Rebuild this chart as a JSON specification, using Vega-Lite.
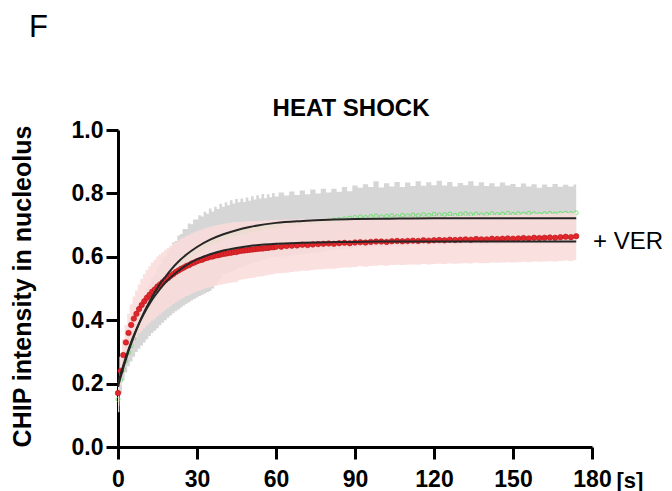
{
  "$schema": "https://vega.github.io/schema/vega-lite/v6.json",
  "width": 474,
  "height": 317,
  "autosize": {"type": "none"},
  "padding": {"left": 118, "top": 130, "right": 80, "bottom": 44},
  "config": {
    "font": "Liberation Sans",
    "view": {"stroke": null},
    "axis": {"grid": false, "domainColor": "black", "domainWidth": 3, "tickColor": "black", "tickWidth": 3, "tickSize": 12, "labelFont": "Liberation Sans", "labelFontSize": 23, "labelFontWeight": "bold", "labelColor": "black", "titleFont": "Liberation Sans", "titleFontWeight": "bold", "titleColor": "black"}
  },
  "datasets": {
    "obs": [
      {"t":0,"g":0.15,"gLo":0.11,"gHi":0.19,"r":0.17,"rLo":0.13,"rHi":0.21},
      {"t":1,"g":0.21,"gLo":0.17,"gHi":0.25,"r":0.24,"rLo":0.195,"rHi":0.285},
      {"t":2,"g":0.245,"gLo":0.21,"gHi":0.29,"r":0.29,"rLo":0.24,"rHi":0.34},
      {"t":3,"g":0.272,"gLo":0.235,"gHi":0.32,"r":0.33,"rLo":0.275,"rHi":0.385},
      {"t":4,"g":0.298,"gLo":0.255,"gHi":0.35,"r":0.36,"rLo":0.30,"rHi":0.42},
      {"t":5,"g":0.32,"gLo":0.27,"gHi":0.38,"r":0.385,"rLo":0.32,"rHi":0.45},
      {"t":6,"g":0.342,"gLo":0.285,"gHi":0.40,"r":0.405,"rLo":0.335,"rHi":0.475},
      {"t":7,"g":0.362,"gLo":0.30,"gHi":0.425,"r":0.42,"rLo":0.346,"rHi":0.494},
      {"t":8,"g":0.382,"gLo":0.31,"gHi":0.44,"r":0.435,"rLo":0.357,"rHi":0.513},
      {"t":9,"g":0.40,"gLo":0.32,"gHi":0.465,"r":0.448,"rLo":0.366,"rHi":0.53},
      {"t":10,"g":0.417,"gLo":0.33,"gHi":0.48,"r":0.46,"rLo":0.375,"rHi":0.545},
      {"t":11,"g":0.433,"gLo":0.34,"gHi":0.50,"r":0.471,"rLo":0.383,"rHi":0.559},
      {"t":12,"g":0.448,"gLo":0.35,"gHi":0.515,"r":0.48,"rLo":0.39,"rHi":0.57},
      {"t":13,"g":0.462,"gLo":0.36,"gHi":0.535,"r":0.49,"rLo":0.398,"rHi":0.582},
      {"t":14,"g":0.476,"gLo":0.367,"gHi":0.545,"r":0.497,"rLo":0.403,"rHi":0.591},
      {"t":15,"g":0.49,"gLo":0.375,"gHi":0.565,"r":0.506,"rLo":0.411,"rHi":0.601},
      {"t":16,"g":0.502,"gLo":0.384,"gHi":0.575,"r":0.513,"rLo":0.418,"rHi":0.608},
      {"t":17,"g":0.513,"gLo":0.392,"gHi":0.595,"r":0.52,"rLo":0.425,"rHi":0.615},
      {"t":18,"g":0.524,"gLo":0.40,"gHi":0.60,"r":0.527,"rLo":0.432,"rHi":0.622},
      {"t":19,"g":0.535,"gLo":0.408,"gHi":0.62,"r":0.533,"rLo":0.438,"rHi":0.628},
      {"t":20,"g":0.545,"gLo":0.415,"gHi":0.628,"r":0.54,"rLo":0.445,"rHi":0.635},
      {"t":21,"g":0.554,"gLo":0.422,"gHi":0.645,"r":0.546,"rLo":0.451,"rHi":0.641},
      {"t":22,"g":0.563,"gLo":0.428,"gHi":0.65,"r":0.552,"rLo":0.457,"rHi":0.647},
      {"t":23,"g":0.571,"gLo":0.434,"gHi":0.667,"r":0.557,"rLo":0.462,"rHi":0.652},
      {"t":24,"g":0.579,"gLo":0.44,"gHi":0.672,"r":0.562,"rLo":0.467,"rHi":0.657},
      {"t":25,"g":0.587,"gLo":0.446,"gHi":0.688,"r":0.566,"rLo":0.471,"rHi":0.661},
      {"t":26,"g":0.594,"gLo":0.452,"gHi":0.688,"r":0.571,"rLo":0.476,"rHi":0.666},
      {"t":27,"g":0.60,"gLo":0.457,"gHi":0.705,"r":0.574,"rLo":0.479,"rHi":0.669},
      {"t":28,"g":0.607,"gLo":0.462,"gHi":0.703,"r":0.579,"rLo":0.484,"rHi":0.674},
      {"t":29,"g":0.613,"gLo":0.467,"gHi":0.718,"r":0.582,"rLo":0.487,"rHi":0.677},
      {"t":30,"g":0.619,"gLo":0.472,"gHi":0.718,"r":0.586,"rLo":0.491,"rHi":0.681},
      {"t":31,"g":0.624,"gLo":0.476,"gHi":0.731,"r":0.589,"rLo":0.494,"rHi":0.684},
      {"t":32,"g":0.629,"gLo":0.48,"gHi":0.727,"r":0.591,"rLo":0.496,"rHi":0.686},
      {"t":33,"g":0.634,"gLo":0.484,"gHi":0.742,"r":0.595,"rLo":0.50,"rHi":0.69},
      {"t":34,"g":0.638,"gLo":0.488,"gHi":0.736,"r":0.597,"rLo":0.502,"rHi":0.692},
      {"t":35,"g":0.643,"gLo":0.492,"gHi":0.752,"r":0.60,"rLo":0.505,"rHi":0.695},
      {"t":36,"g":0.647,"gLo":0.50,"gHi":0.743,"r":0.601,"rLo":0.506,"rHi":0.696},
      {"t":37,"g":0.65,"gLo":0.51,"gHi":0.758,"r":0.604,"rLo":0.509,"rHi":0.699},
      {"t":38,"g":0.654,"gLo":0.52,"gHi":0.751,"r":0.605,"rLo":0.51,"rHi":0.70},
      {"t":39,"g":0.657,"gLo":0.53,"gHi":0.767,"r":0.607,"rLo":0.512,"rHi":0.702},
      {"t":40,"g":0.661,"gLo":0.546,"gHi":0.758,"r":0.609,"rLo":0.514,"rHi":0.704},
      {"t":41,"g":0.664,"gLo":0.549,"gHi":0.772,"r":0.61,"rLo":0.515,"rHi":0.705},
      {"t":42,"g":0.666,"gLo":0.551,"gHi":0.763,"r":0.612,"rLo":0.517,"rHi":0.707},
      {"t":43,"g":0.669,"gLo":0.554,"gHi":0.778,"r":0.613,"rLo":0.518,"rHi":0.708},
      {"t":44,"g":0.672,"gLo":0.557,"gHi":0.768,"r":0.615,"rLo":0.52,"rHi":0.71},
      {"t":45,"g":0.674,"gLo":0.559,"gHi":0.782,"r":0.615,"rLo":0.52,"rHi":0.71},
      {"t":46,"g":0.676,"gLo":0.566,"gHi":0.772,"r":0.618,"rLo":0.526,"rHi":0.71},
      {"t":47,"g":0.678,"gLo":0.568,"gHi":0.784,"r":0.619,"rLo":0.528,"rHi":0.71},
      {"t":48,"g":0.68,"gLo":0.571,"gHi":0.773,"r":0.62,"rLo":0.529,"rHi":0.711},
      {"t":49,"g":0.682,"gLo":0.574,"gHi":0.787,"r":0.621,"rLo":0.531,"rHi":0.711},
      {"t":50,"g":0.684,"gLo":0.576,"gHi":0.777,"r":0.622,"rLo":0.532,"rHi":0.712},
      {"t":51,"g":0.686,"gLo":0.579,"gHi":0.791,"r":0.623,"rLo":0.533,"rHi":0.713},
      {"t":52,"g":0.688,"gLo":0.582,"gHi":0.781,"r":0.624,"rLo":0.535,"rHi":0.713},
      {"t":53,"g":0.689,"gLo":0.584,"gHi":0.794,"r":0.625,"rLo":0.537,"rHi":0.713},
      {"t":54,"g":0.691,"gLo":0.587,"gHi":0.784,"r":0.626,"rLo":0.538,"rHi":0.714},
      {"t":55,"g":0.692,"gLo":0.589,"gHi":0.798,"r":0.626,"rLo":0.539,"rHi":0.713},
      {"t":56,"g":0.694,"gLo":0.592,"gHi":0.785,"r":0.628,"rLo":0.541,"rHi":0.715},
      {"t":57,"g":0.695,"gLo":0.594,"gHi":0.797,"r":0.628,"rLo":0.542,"rHi":0.714},
      {"t":58,"g":0.697,"gLo":0.597,"gHi":0.788,"r":0.63,"rLo":0.544,"rHi":0.716},
      {"t":59,"g":0.698,"gLo":0.598,"gHi":0.801,"r":0.63,"rLo":0.545,"rHi":0.715},
      {"t":60,"g":0.699,"gLo":0.599,"gHi":0.79,"r":0.632,"rLo":0.547,"rHi":0.717},
      {"t":62,"g":0.70,"gLo":0.60,"gHi":0.803,"r":0.632,"rLo":0.548,"rHi":0.716},
      {"t":64,"g":0.702,"gLo":0.602,"gHi":0.793,"r":0.634,"rLo":0.55,"rHi":0.718},
      {"t":66,"g":0.704,"gLo":0.605,"gHi":0.806,"r":0.635,"rLo":0.552,"rHi":0.718},
      {"t":68,"g":0.705,"gLo":0.606,"gHi":0.795,"r":0.636,"rLo":0.554,"rHi":0.718},
      {"t":70,"g":0.707,"gLo":0.608,"gHi":0.809,"r":0.638,"rLo":0.556,"rHi":0.72},
      {"t":72,"g":0.708,"gLo":0.61,"gHi":0.797,"r":0.637,"rLo":0.556,"rHi":0.718},
      {"t":74,"g":0.71,"gLo":0.612,"gHi":0.812,"r":0.639,"rLo":0.558,"rHi":0.72},
      {"t":76,"g":0.711,"gLo":0.614,"gHi":0.80,"r":0.64,"rLo":0.56,"rHi":0.72},
      {"t":78,"g":0.713,"gLo":0.617,"gHi":0.815,"r":0.641,"rLo":0.561,"rHi":0.721},
      {"t":80,"g":0.715,"gLo":0.62,"gHi":0.803,"r":0.642,"rLo":0.562,"rHi":0.722},
      {"t":82,"g":0.716,"gLo":0.621,"gHi":0.815,"r":0.641,"rLo":0.562,"rHi":0.72},
      {"t":84,"g":0.718,"gLo":0.623,"gHi":0.805,"r":0.643,"rLo":0.565,"rHi":0.721},
      {"t":86,"g":0.72,"gLo":0.625,"gHi":0.82,"r":0.644,"rLo":0.566,"rHi":0.722},
      {"t":88,"g":0.722,"gLo":0.627,"gHi":0.807,"r":0.643,"rLo":0.566,"rHi":0.72},
      {"t":90,"g":0.724,"gLo":0.629,"gHi":0.825,"r":0.645,"rLo":0.568,"rHi":0.722},
      {"t":92,"g":0.726,"gLo":0.631,"gHi":0.818,"r":0.646,"rLo":0.57,"rHi":0.722},
      {"t":94,"g":0.724,"gLo":0.629,"gHi":0.829,"r":0.645,"rLo":0.569,"rHi":0.721},
      {"t":96,"g":0.727,"gLo":0.632,"gHi":0.82,"r":0.647,"rLo":0.571,"rHi":0.723},
      {"t":98,"g":0.729,"gLo":0.634,"gHi":0.838,"r":0.648,"rLo":0.572,"rHi":0.724},
      {"t":100,"g":0.726,"gLo":0.631,"gHi":0.819,"r":0.648,"rLo":0.573,"rHi":0.723},
      {"t":102,"g":0.728,"gLo":0.633,"gHi":0.832,"r":0.647,"rLo":0.572,"rHi":0.722},
      {"t":104,"g":0.73,"gLo":0.635,"gHi":0.822,"r":0.649,"rLo":0.574,"rHi":0.724},
      {"t":106,"g":0.727,"gLo":0.632,"gHi":0.836,"r":0.65,"rLo":0.575,"rHi":0.725},
      {"t":108,"g":0.731,"gLo":0.636,"gHi":0.82,"r":0.649,"rLo":0.574,"rHi":0.724},
      {"t":110,"g":0.729,"gLo":0.634,"gHi":0.834,"r":0.65,"rLo":0.575,"rHi":0.725},
      {"t":112,"g":0.732,"gLo":0.637,"gHi":0.823,"r":0.651,"rLo":0.576,"rHi":0.726},
      {"t":114,"g":0.73,"gLo":0.635,"gHi":0.838,"r":0.65,"rLo":0.575,"rHi":0.725},
      {"t":116,"g":0.733,"gLo":0.638,"gHi":0.824,"r":0.652,"rLo":0.577,"rHi":0.727},
      {"t":118,"g":0.731,"gLo":0.636,"gHi":0.835,"r":0.651,"rLo":0.576,"rHi":0.726},
      {"t":120,"g":0.734,"gLo":0.639,"gHi":0.826,"r":0.652,"rLo":0.577,"rHi":0.727},
      {"t":122,"g":0.732,"gLo":0.637,"gHi":0.84,"r":0.653,"rLo":0.578,"rHi":0.728},
      {"t":124,"g":0.733,"gLo":0.638,"gHi":0.825,"r":0.652,"rLo":0.577,"rHi":0.727},
      {"t":126,"g":0.735,"gLo":0.64,"gHi":0.836,"r":0.654,"rLo":0.579,"rHi":0.729},
      {"t":128,"g":0.731,"gLo":0.636,"gHi":0.822,"r":0.653,"rLo":0.578,"rHi":0.728},
      {"t":130,"g":0.734,"gLo":0.639,"gHi":0.833,"r":0.654,"rLo":0.579,"rHi":0.729},
      {"t":132,"g":0.736,"gLo":0.641,"gHi":0.826,"r":0.655,"rLo":0.58,"rHi":0.73},
      {"t":134,"g":0.733,"gLo":0.638,"gHi":0.838,"r":0.654,"rLo":0.579,"rHi":0.729},
      {"t":136,"g":0.735,"gLo":0.64,"gHi":0.824,"r":0.656,"rLo":0.581,"rHi":0.731},
      {"t":138,"g":0.732,"gLo":0.637,"gHi":0.835,"r":0.655,"rLo":0.58,"rHi":0.73},
      {"t":140,"g":0.734,"gLo":0.639,"gHi":0.823,"r":0.655,"rLo":0.58,"rHi":0.73},
      {"t":142,"g":0.736,"gLo":0.641,"gHi":0.832,"r":0.657,"rLo":0.582,"rHi":0.732},
      {"t":144,"g":0.733,"gLo":0.638,"gHi":0.822,"r":0.656,"rLo":0.581,"rHi":0.731},
      {"t":146,"g":0.735,"gLo":0.64,"gHi":0.834,"r":0.657,"rLo":0.582,"rHi":0.732},
      {"t":148,"g":0.737,"gLo":0.642,"gHi":0.825,"r":0.658,"rLo":0.583,"rHi":0.733},
      {"t":150,"g":0.734,"gLo":0.639,"gHi":0.83,"r":0.657,"rLo":0.582,"rHi":0.732},
      {"t":152,"g":0.736,"gLo":0.641,"gHi":0.82,"r":0.658,"rLo":0.583,"rHi":0.733},
      {"t":154,"g":0.735,"gLo":0.64,"gHi":0.831,"r":0.659,"rLo":0.584,"rHi":0.734},
      {"t":156,"g":0.737,"gLo":0.642,"gHi":0.822,"r":0.658,"rLo":0.583,"rHi":0.733},
      {"t":158,"g":0.736,"gLo":0.641,"gHi":0.829,"r":0.66,"rLo":0.585,"rHi":0.735},
      {"t":160,"g":0.734,"gLo":0.639,"gHi":0.818,"r":0.659,"rLo":0.584,"rHi":0.734},
      {"t":162,"g":0.736,"gLo":0.641,"gHi":0.828,"r":0.66,"rLo":0.585,"rHi":0.735},
      {"t":164,"g":0.737,"gLo":0.642,"gHi":0.82,"r":0.661,"rLo":0.586,"rHi":0.736},
      {"t":166,"g":0.735,"gLo":0.64,"gHi":0.83,"r":0.66,"rLo":0.585,"rHi":0.735},
      {"t":168,"g":0.737,"gLo":0.642,"gHi":0.821,"r":0.662,"rLo":0.587,"rHi":0.737},
      {"t":170,"g":0.738,"gLo":0.643,"gHi":0.827,"r":0.663,"rLo":0.588,"rHi":0.738},
      {"t":172,"g":0.736,"gLo":0.641,"gHi":0.822,"r":0.662,"rLo":0.587,"rHi":0.737},
      {"t":174,"g":0.739,"gLo":0.644,"gHi":0.828,"r":0.665,"rLo":0.59,"rHi":0.74}
    ],
    "fit": [
      {"t":0,"gFit":0.19,"rFit":0.20},
      {"t":1,"gFit":0.22,"rFit":0.23},
      {"t":2,"gFit":0.249,"rFit":0.258},
      {"t":3,"gFit":0.276,"rFit":0.284},
      {"t":4,"gFit":0.302,"rFit":0.308},
      {"t":5,"gFit":0.326,"rFit":0.331},
      {"t":6,"gFit":0.348,"rFit":0.352},
      {"t":8,"gFit":0.39,"rFit":0.39},
      {"t":10,"gFit":0.427,"rFit":0.423},
      {"t":12,"gFit":0.459,"rFit":0.452},
      {"t":14,"gFit":0.488,"rFit":0.477},
      {"t":16,"gFit":0.515,"rFit":0.499},
      {"t":18,"gFit":0.537,"rFit":0.519},
      {"t":20,"gFit":0.558,"rFit":0.535},
      {"t":23,"gFit":0.585,"rFit":0.556},
      {"t":26,"gFit":0.607,"rFit":0.574},
      {"t":30,"gFit":0.631,"rFit":0.592},
      {"t":35,"gFit":0.654,"rFit":0.608},
      {"t":40,"gFit":0.671,"rFit":0.62},
      {"t":45,"gFit":0.684,"rFit":0.628},
      {"t":50,"gFit":0.694,"rFit":0.634},
      {"t":60,"gFit":0.707,"rFit":0.641},
      {"t":70,"gFit":0.713,"rFit":0.644},
      {"t":80,"gFit":0.717,"rFit":0.646},
      {"t":90,"gFit":0.719,"rFit":0.647},
      {"t":100,"gFit":0.72,"rFit":0.648},
      {"t":120,"gFit":0.722,"rFit":0.648},
      {"t":140,"gFit":0.722,"rFit":0.648},
      {"t":160,"gFit":0.722,"rFit":0.648},
      {"t":174,"gFit":0.722,"rFit":0.648}
    ],
    "labels": [
      {"label": "HEAT SHOCK", "t": 88.5, "v": 1.044, "kind": "title"},
      {"label": "+ VER", "t": 180.4, "v": 0.647, "kind": "series"},
      {"label": "F", "t": -33.8, "v": 1.292, "kind": "panel"}
    ]
  },
  "layer": [
    {
      "data": {"name": "obs"},
      "mark": {"type": "area", "color": "#d6d6d6", "interpolate": "step"},
      "encoding": {
        "x": {"field": "t", "type": "quantitative", "scale": {"domain": [0, 180], "nice": false},
          "axis": {"values": [0, 30, 60, 90, 120, 150, 180], "title": "[s]", "titleX": 498, "titleY": 40, "titleAlign": "left", "titleBaseline": "alphabetic", "titleFontSize": 22, "labelPadding": 9, "labelFlush": false}},
        "y": {"field": "gLo", "type": "quantitative", "scale": {"domain": [0, 1], "nice": false},
          "axis": {"values": [0, 0.2, 0.4, 0.6, 0.8, 1.0], "format": ".1f", "title": "CHIP intensity in nucleolus", "titleFontSize": 25, "titleX": -88, "titleY": 156, "titleBaseline": "alphabetic", "titleAlign": "center", "titleAngle": -90, "labelPadding": 3}},
        "y2": {"field": "gHi"}
      }
    },
    {
      "data": {"name": "obs"},
      "mark": {"type": "point", "filled": false, "color": "#3de83d", "size": 16, "strokeWidth": 1},
      "encoding": {
        "x": {"field": "t", "type": "quantitative"},
        "y": {"field": "g", "type": "quantitative"}
      }
    },
    {
      "data": {"name": "obs"},
      "mark": {"type": "area", "color": "#fbdcdc", "opacity": 0.88, "interpolate": "step"},
      "encoding": {
        "x": {"field": "t", "type": "quantitative"},
        "y": {"field": "rLo", "type": "quantitative"},
        "y2": {"field": "rHi"}
      }
    },
    {
      "data": {"name": "obs"},
      "mark": {"type": "point", "filled": true, "fill": "#e3262b", "stroke": "#b3161a", "strokeWidth": 0.6, "opacity": 1, "size": 30},
      "encoding": {
        "x": {"field": "t", "type": "quantitative"},
        "y": {"field": "r", "type": "quantitative"}
      }
    },
    {
      "data": {"name": "fit"},
      "mark": {"type": "line", "color": "#262626", "strokeWidth": 2, "interpolate": "monotone"},
      "encoding": {
        "x": {"field": "t", "type": "quantitative"},
        "y": {"field": "gFit", "type": "quantitative"}
      }
    },
    {
      "data": {"name": "fit"},
      "mark": {"type": "line", "color": "#262626", "strokeWidth": 2, "interpolate": "monotone"},
      "encoding": {
        "x": {"field": "t", "type": "quantitative"},
        "y": {"field": "rFit", "type": "quantitative"}
      }
    },
    {
      "data": {"name": "labels"},
      "transform": [{"filter": "datum.kind === 'title'"}],
      "mark": {"type": "text", "align": "center", "baseline": "alphabetic", "fontSize": 24, "fontWeight": "bold", "font": "Liberation Sans", "color": "black"},
      "encoding": {
        "x": {"field": "t", "type": "quantitative"},
        "y": {"field": "v", "type": "quantitative"},
        "text": {"field": "label"}
      }
    },
    {
      "data": {"name": "labels"},
      "transform": [{"filter": "datum.kind === 'series'"}],
      "mark": {"type": "text", "align": "left", "baseline": "middle", "fontSize": 24, "font": "Liberation Sans", "color": "black"},
      "encoding": {
        "x": {"field": "t", "type": "quantitative"},
        "y": {"field": "v", "type": "quantitative"},
        "text": {"field": "label"}
      }
    },
    {
      "data": {"name": "labels"},
      "transform": [{"filter": "datum.kind === 'panel'"}],
      "mark": {"type": "text", "align": "left", "baseline": "alphabetic", "fontSize": 31, "font": "Liberation Sans", "color": "black"},
      "encoding": {
        "x": {"field": "t", "type": "quantitative"},
        "y": {"field": "v", "type": "quantitative"},
        "text": {"field": "label"}
      }
    }
  ]
}
